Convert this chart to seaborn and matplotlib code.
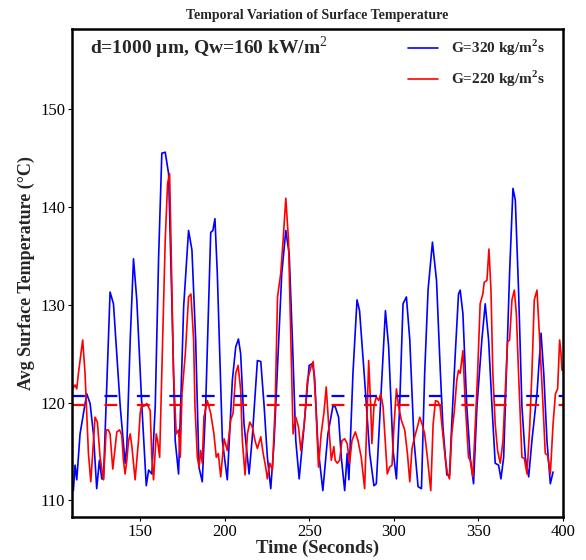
import numpy as np
import pandas as pd
import matplotlib
matplotlib.use("Agg")
import matplotlib.pyplot as plt
import seaborn as sns

# ---- data ----
t_blue = [110.5, 111.5, 112.5, 114.45, 118.4, 120.4, 122.35, 124.3, 125.9, 127.3, 128.3, 132.2, 134.2,
          138.2, 141.1, 142.1, 144.1, 146.05, 148.0, 151.0, 153.6, 155.0, 156.9, 158.9, 160.9, 162.8,
          164.8, 166.8, 168.8, 170.7, 172.7, 175.7, 178.6, 180.6, 182.8, 184.75, 186.7, 188.7, 191.7,
          193.0, 194.2, 195.6, 198.6, 201.5, 204.5, 206.5, 208.1, 209.4, 211.4, 214.4, 216.3, 219.3,
          221.3, 223.3, 225.2, 227.2, 229.2, 231.2, 233.7, 236.1, 238.1, 240.0, 242.0, 244.0, 247.0,
          249.9, 251.9, 253.1, 255.1, 258.0, 261.0, 263.9, 265.3, 267.3, 268.9, 270.9, 272.4, 273.4,
          275.8, 278.2, 279.7, 282.7, 285.7, 288.2, 289.6, 292.0, 295.0, 296.9, 299.5, 301.5, 303.4,
          305.4, 307.4, 309.4, 311.9, 314.3, 316.3, 318.2, 320.2, 322.8, 325.2, 327.5, 329.0, 331.3,
          332.9, 334.2, 336.2, 338.2, 339.2, 340.8, 343.1, 345.1, 347.1, 349.1, 352.0, 354.0, 356.0,
          358.0, 359.9, 361.9, 363.3, 364.9, 366.8, 368.4, 370.4, 371.8, 373.7, 375.7, 377.7, 379.7,
          381.6, 384.6, 387.0, 388.6, 390.5, 392.5, 394.1]
temp_blue = [111.0, 113.6, 112.1, 116.8, 120.9, 119.9, 116.8, 111.2, 114.1, 112.2, 112.2, 131.3, 130.1,
             119.6, 113.8, 115.5, 126.4, 134.7, 130.5, 119.6, 111.5, 113.1, 112.7, 119.6, 134.9, 145.5,
             145.6, 143.4, 129.8, 116.1, 112.7, 129.8, 137.6, 135.6, 126.4, 113.4, 111.9, 119.6, 137.4,
             137.6, 138.8, 133.2, 116.1, 112.1, 122.3, 125.7, 126.5, 125.0, 117.8, 112.7, 116.5, 124.3,
             124.2, 119.6, 114.4, 111.2, 116.1, 123.6, 133.2, 137.6, 135.2, 126.4, 116.1, 112.2, 117.8,
             123.8, 124.0, 122.6, 115.5, 111.0, 116.8, 119.6, 119.6, 118.5, 114.4, 111.0, 114.8, 112.1,
             123.0, 130.5, 129.4, 122.3, 114.8, 111.5, 111.7, 119.6, 129.4, 125.7, 115.1, 112.2, 119.6,
             130.1, 130.8, 126.4, 116.1, 111.4, 111.2, 123.0, 131.5, 136.4, 132.5, 123.0, 117.5, 112.6,
             112.6, 117.8, 124.7, 131.1, 131.5, 129.1, 119.6, 114.4, 111.7, 119.6, 126.4, 130.1, 126.4,
             119.6, 113.8, 113.6, 112.2, 114.4, 124.7, 133.2, 141.9, 140.7, 131.5, 119.6, 114.4, 112.4,
             116.1, 120.9, 127.1, 123.0, 116.1, 111.7, 112.9]

t_red = [110.1, 111.5, 112.5, 113.5, 116.0, 117.4, 118.4, 119.4, 120.8, 122.4, 123.3, 124.7, 126.3, 128.3,
         129.9, 131.2, 132.2, 133.8, 136.2, 137.8, 139.1, 140.1, 141.1, 142.1, 143.1, 144.1, 145.1, 147.0,
         149.0, 150.0, 151.0, 152.0, 153.9, 155.9, 156.9, 157.9, 159.5, 160.3, 161.5, 162.8, 164.8, 166.2,
         167.4, 168.2, 169.7, 171.3, 172.7, 173.7, 174.7, 176.7, 178.6, 180.0, 181.6, 182.4, 183.8, 184.8,
         185.7, 186.7, 187.7, 189.7, 191.7, 193.6, 195.0, 196.2, 197.6, 199.6, 201.5, 203.5, 204.9, 206.5,
         207.9, 209.4, 210.4, 212.0, 213.4, 214.8, 216.3, 217.9, 219.3, 221.3, 222.7, 224.2, 225.2, 226.6,
         228.2, 229.8, 231.2, 233.1, 234.5, 236.1, 237.7, 239.1, 240.4, 242.0, 243.6, 245.0, 247.0, 248.9,
         250.9, 252.3, 253.9, 255.4, 257.0, 258.6, 260.0, 261.4, 263.0, 264.5, 265.3, 266.5, 267.9, 269.3,
         270.9, 272.4, 273.8, 275.2, 277.2, 278.8, 280.7, 282.7, 284.3, 285.1, 286.3, 287.0, 288.2, 289.6,
         291.0, 292.2, 293.6, 294.9, 296.1, 297.5, 298.9, 300.1, 301.5, 302.8, 304.4, 306.4, 308.0, 309.4,
         310.7, 312.3, 313.9, 315.3, 316.7, 318.2, 319.8, 321.8, 323.2, 324.6, 326.1, 327.3, 328.9, 330.3,
         331.7, 332.9, 334.2, 335.6, 337.2, 338.2, 339.2, 340.8, 342.1, 344.1, 345.1, 346.7, 348.1, 349.5,
         351.0, 352.6, 353.4, 355.0, 356.2, 357.4, 358.5, 359.9, 361.3, 362.9, 364.5, 365.8, 367.2, 368.4,
         369.8, 371.2, 372.4, 373.7, 375.7, 377.1, 378.7, 380.3, 381.6, 383.0, 384.6, 386.2, 388.2, 389.5,
         390.9, 392.5, 394.1, 395.5, 396.8, 398.0, 398.8, 399.4]
temp_red = [121.4, 121.8, 121.4, 123.0, 126.4, 123.0, 118.9, 114.8, 111.9, 116.1, 118.5, 118.0, 114.4, 112.1,
            117.2, 117.2, 116.8, 113.2, 117.0, 117.2, 116.7, 114.1, 112.7, 114.1, 116.1, 116.8, 115.5, 112.1,
            116.1, 118.9, 119.9, 119.6, 119.9, 119.2, 114.4, 112.1, 116.8, 116.1, 114.4, 123.0, 136.6, 142.4,
            143.4, 136.6, 123.0, 116.8, 117.2, 114.4, 120.9, 125.0, 130.8, 131.1, 126.4, 119.6, 114.4, 113.4,
            115.1, 113.8, 118.5, 120.2, 118.9, 116.8, 114.4, 114.8, 112.4, 116.3, 115.1, 118.2, 118.9, 123.0,
            123.8, 121.3, 116.1, 112.6, 116.8, 118.0, 117.5, 116.1, 115.3, 116.5, 114.8, 113.4, 112.2, 113.8,
            113.1, 119.6, 130.8, 133.2, 136.6, 140.9, 136.6, 126.4, 116.8, 118.5, 117.5, 115.1, 117.8, 122.3,
            123.6, 124.2, 119.6, 113.4, 116.8, 118.9, 121.6, 117.8, 114.1, 115.5, 114.1, 113.8, 114.1, 116.1,
            116.3, 115.8, 113.8, 116.1, 117.0, 116.1, 114.4, 111.2, 119.6, 124.3, 119.6, 115.8, 119.6, 120.6,
            120.2, 120.9, 119.6, 116.1, 112.7, 113.4, 113.6, 117.8, 121.4, 119.6, 118.2, 117.2, 114.8, 111.9,
            115.3, 116.5, 117.5, 118.5, 117.8, 116.8, 114.4, 111.0, 117.8, 120.2, 120.1, 119.6, 116.8, 114.4,
            112.7, 112.2, 116.8, 118.9, 122.3, 123.3, 123.0, 125.3, 120.2, 114.4, 114.1, 112.4, 117.8, 123.0,
            130.1, 131.1, 132.3, 132.5, 135.7, 131.5, 123.0, 117.8, 115.1, 113.8, 116.1, 120.9, 126.2, 126.4,
            130.5, 131.5, 129.1, 123.0, 114.4, 114.3, 112.7, 117.5, 123.0, 130.5, 131.5, 126.4, 119.6, 114.8,
            114.6, 112.7, 117.8, 120.9, 121.4, 126.4, 125.0, 123.3]

mean_blue = 120.7
mean_red = 119.8

label_blue = "G=320 kg/m$^{\\mathbf{2}}$s"
label_red = "G=220 kg/m$^{\\mathbf{2}}$s"
x_ticks = [150, 200, 250, 300, 350, 400]
y_ticks = [110, 120, 130, 140, 150]

sns.set_style("white")
plt.rcParams["font.family"] = ["Liberation Serif", "DejaVu Serif"]
plt.rcParams["mathtext.fontset"] = "custom"
plt.rcParams["mathtext.rm"] = "Liberation Serif"
plt.rcParams["mathtext.bf"] = "Liberation Serif:bold"

fig = plt.figure(figsize=(5.86, 5.60), dpi=100)
ax = fig.add_axes([0.1229, 0.0768, 0.8379, 0.8714])

df_b = pd.DataFrame({"t": t_blue, "T": temp_blue})
df_r = pd.DataFrame({"t": t_red, "T": temp_red})
sns.lineplot(data=df_b, x="t", y="T", ax=ax, color="blue", lw=1.2, label=label_blue,
             estimator=None, sort=False)
sns.lineplot(data=df_r, x="t", y="T", ax=ax, color="red", lw=1.2, label=label_red,
             estimator=None, sort=False)

ax.axhline(mean_blue, color="blue", lw=1.6, linestyle=(0, (5.8, 8.8)))
ax.axhline(mean_red, color="red", lw=1.6, linestyle=(0, (5.8, 8.8)))

ax.set_xlim(109.7, 400)
ax.set_ylim(108.3, 158.2)
ax.set_xticks(x_ticks)
ax.set_yticks(y_ticks)
ax.tick_params(axis="both", labelsize=12, direction="out", length=3, width=0.8,
               bottom=True, left=True, colors="black", pad=2)
for s in ax.spines.values():
    s.set_color("black")
    s.set_linewidth(1.8)

ax.set_xlabel("Time (Seconds)", fontsize=13.5, fontweight="bold", labelpad=0)
ax.set_ylabel("Avg Surface Temperature (\u00b0C)", fontsize=13, fontweight="bold", labelpad=4)
ax.set_title("Temporal Variation of Surface Temperature", fontsize=10, fontweight="bold", pad=7)

ax.text(0.037, 0.962, "d=1000 \u00b5m, Qw=160 kW/m$^2$", transform=ax.transAxes,
        fontsize=14, fontweight="bold", va="center", ha="left")

leg = ax.legend(loc="upper right", bbox_to_anchor=(0.99, 1.01), frameon=False,
                prop={"size": 11, "weight": "bold"}, handlelength=2.0, handletextpad=0.8,
                labelspacing=0.68)

fig.savefig("out.png", dpi=100)
